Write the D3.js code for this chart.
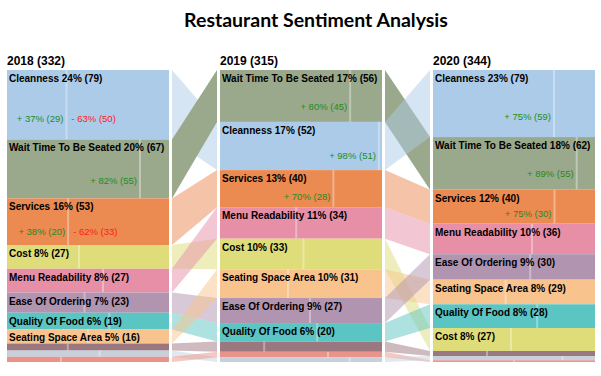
<!DOCTYPE html>
<html>
<head>
<meta charset="utf-8">
<script src="https://cdn.jsdelivr.net/npm/d3@7"></script>
<style>
  body { margin: 0; background: #fff; }
</style>
</head>
<body>
<div id="chart"></div>
<script>
// years shown as columns
const years = ["2018", "2019", "2020"];

const categories = [
    "Cleanness", "Wait Time To Be Seated", "Services", "Cost", "Menu Readability",
    "Ease Of Ordering", "Quality Of Food", "Seating Space Area", "Music", "Parking", "Lighting"
];

// review counts per category, one value per year
const counts = [
    [79, 52, 79],
    [67, 56, 62],
    [53, 40, 40],
    [27, 33, 27],
    [27, 34, 36],
    [23, 27, 30],
    [19, 20, 28],
    [16, 31, 29],
    [8, 11, 6],
    [7, 5, 5],
    [6, 6, 2]
];

// positive reviews per category, one value per year
const positives = [
    [29, 51, 59],
    [55, 45, 55],
    [20, 28, 30],
    [12, 17, 13],
    [16, 16, 22],
    [11, 15, 18],
    [12, 12, 18],
    [8, 13, 13],
    [3, 3, 2],
    [4, 4, 4],
    [2, 4, 1]
];

// share of the year as printed on each block (%)
const shares = [
    [24, 17, 23],
    [20, 17, 18],
    [16, 13, 12],
    [8, 10, 8],
    [8, 11, 10],
    [7, 9, 9],
    [6, 6, 8],
    [5, 10, 8],
    [2, 3, 2],
    [2, 2, 1],
    [2, 2, 1]
];

const colors = [
    "#abcbe8", "#9aa98b", "#eb8a51", "#dedd7a", "#e68fa7",
    "#b194b0", "#5bc5c3", "#f8c38c", "#9b7880", "#c6d1dc", "#ea938a"
];

const highlighted = "Wait Time To Be Seated";

const width = 601, height = 376;
const yTop = 70, yBottom = 362;
const gap = 3;

const svg = d3.select("#chart").append("svg")
    .attr("width", width)
    .attr("height", height)
    .style("font-family", "'Liberation Sans', Arial, sans-serif");

svg.append("text")
    .attr("x", 316)
    .attr("y", 27)
    .attr("text-anchor", "middle")
    .style("font-family", "Lato, 'Open Sans', sans-serif")
    .style("font-weight", "bold")
    .style("font-size", "19.5px")
    .text("Restaurant Sentiment Analysis");

const x = d3.scaleBand()
    .domain(years)
    .range([7, 595])
    .paddingInner(51 / 213);
const bw = x.bandwidth();

// build stacked blocks per year, largest first
const columns = years.map((year, yi) => {
    const total = d3.sum(counts, c => c[yi]);
    const y = d3.scaleLinear().domain([0, total]).range([yTop, yBottom]);
    const order = d3.range(categories.length)
        .sort((a, b) => d3.descending(counts[a][yi], counts[b][yi]) || a - b);
    let acc = 0;
    const blocks = order.map(ci => {
        const b = {
            ci, name: categories[ci], count: counts[ci][yi], pos: positives[ci][yi],
            share: shares[ci][yi], y0: y(acc), y1: y(acc + counts[ci][yi])
        };
        acc += counts[ci][yi];
        return b;
    });
    const byCat = {};
    blocks.forEach(b => byCat[b.ci] = b);
    return { year, yi, total, blocks, byCat };
});

// links between neighbouring years
const line = d3.line();
for (let i = 0; i < columns.length - 1; i++) {
    const left = columns[i], right = columns[i + 1];
    const x1 = x(left.year) + bw + gap, x2 = x(right.year) - gap;
    svg.append("g").selectAll("path")
        .data(left.blocks)
        .enter()
        .append("path")
        .attr("d", d => {
            const r = right.byCat[d.ci];
            return line([[x1, d.y0], [x2, r.y0], [x2, r.y1], [x1, d.y1]]) + "Z";
        })
        .attr("fill", d => colors[d.ci])
        .attr("fill-opacity", d => d.name === highlighted ? 1 : 0.5);
}

columns.forEach(col => {
    const x0 = x(col.year);
    const sx = d3.scaleLinear().domain([0, 1]).range([x0, x0 + bw]);
    const g = svg.append("g");

    g.append("text")
        .attr("x", x0)
        .attr("y", 65)
        .style("font-weight", "bold")
        .style("font-size", "12px")
        .text(`${col.year} (${col.total})`);

    const block = g.selectAll(".block")
        .data(col.blocks)
        .enter()
        .append("g")
        .attr("class", "block");

    block.append("rect")
        .attr("x", x0)
        .attr("y", d => d.y0)
        .attr("width", bw)
        .attr("height", d => d.y1 - d.y0)
        .attr("fill", d => colors[d.ci]);

    block.append("line")
        .attr("x1", d => sx(d.pos / d.count))
        .attr("x2", d => sx(d.pos / d.count))
        .attr("y1", d => d.y0)
        .attr("y2", d => d.y1)
        .attr("stroke", "#fff")
        .attr("stroke-opacity", 0.35)
        .attr("stroke-width", 2);

    block.filter(d => d.y1 - d.y0 >= 12)
        .append("text")
        .attr("x", x0 + 2)
        .attr("y", d => d.y0 + 12)
        .style("font-weight", "bold")
        .style("font-size", "10px")
        .text(d => `${d.name} ${d.share}% (${d.count})`);

    // sentiment labels on the larger blocks
    const big = block.filter(d => d.y1 - d.y0 >= 33);
    big.filter(d => sx(d.pos / d.count) - x0 >= 50)
        .append("text")
        .attr("x", d => sx(d.pos / d.count) - 3)
        .attr("y", d => d.y0 + 0.7 * (d.y1 - d.y0) + 3.5)
        .attr("text-anchor", "end")
        .attr("fill", "#228b22")
        .style("font-size", "9.5px")
        .text(d => `+ ${Math.round(d.pos / d.count * 100)}% (${d.pos})`);
    big.filter(d => x0 + bw - sx(d.pos / d.count) >= 50)
        .append("text")
        .attr("x", d => sx(d.pos / d.count) + 5)
        .attr("y", d => d.y0 + 0.7 * (d.y1 - d.y0) + 3.5)
        .attr("fill", "#ff1a1a")
        .style("font-size", "9.5px")
        .text(d => `- ${Math.round((d.count - d.pos) / d.count * 100)}% (${d.count - d.pos})`);
});
</script>
</body>
</html>
